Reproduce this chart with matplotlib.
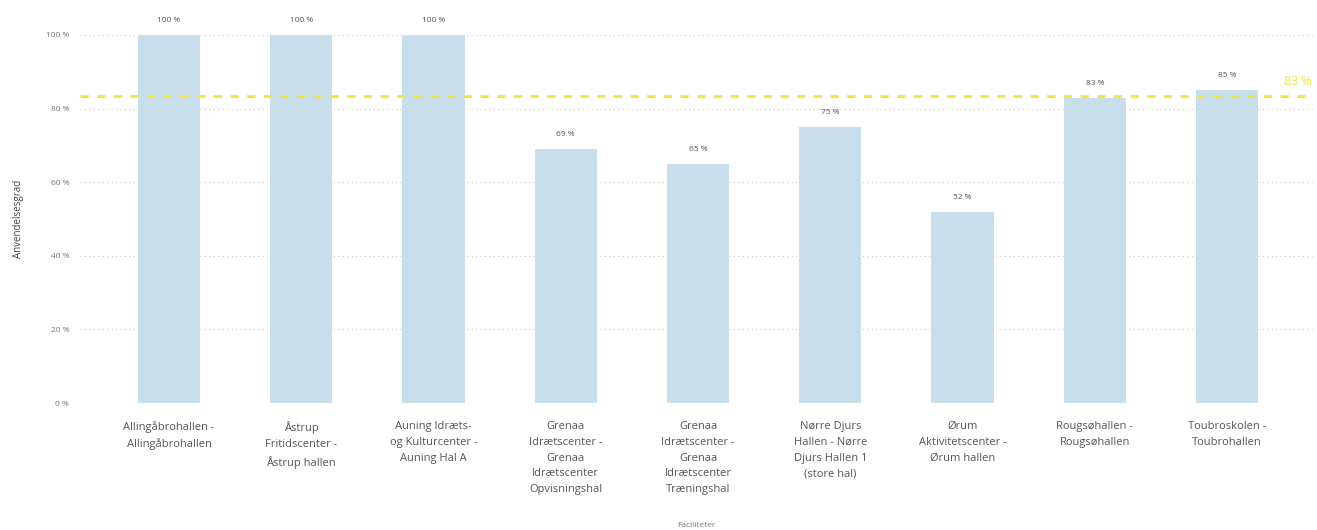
import matplotlib
matplotlib.use("Agg")
import matplotlib.pyplot as plt

categories = [
    "Allingåbrohallen -\nAllingåbrohallen",
    "Åstrup\nFritidscenter -\nÅstrup hallen",
    "Auning Idræts-\nog Kulturcenter -\nAuning Hal A",
    "Grenaa\nIdrætscenter -\nGrenaa\nIdrætscenter\nOpvisningshal",
    "Grenaa\nIdrætscenter -\nGrenaa\nIdrætscenter\nTræningshal",
    "Nørre Djurs\nHallen - Nørre\nDjurs Hallen 1\n(store hal)",
    "Ørum\nAktivitetscenter -\nØrum hallen",
    "Rougsøhallen -\nRougsøhallen",
    "Toubroskolen -\nToubrohallen",
]
values = [100, 100, 100, 69, 65, 75, 52, 83, 85]
average = 83.4
yticks = [0, 20, 40, 60, 80, 100]

plt.rcParams['font.family'] = ['Open Sans', 'DejaVu Sans']

fig = plt.figure(figsize=(13.17, 5.30), dpi=100)
ax = fig.add_axes([0.061, 0.2396, 0.937, 0.6944])

x = list(range(len(categories)))
ax.bar(x, values, width=0.47, color="#C8DEEA", zorder=2)
for xi, v in zip(x, values):
    ax.text(xi, v + 3, f"{v} %", ha="center", va="bottom", fontsize=6, color="#555555")

ax.axhline(average, color="#F3E43C", linestyle=(0, (3, 3)), linewidth=2, zorder=3)
ax.text(8.64, average + 2.3, f"{round(average)} %", ha="right", va="bottom",
        fontsize=9, color="#F3E43C")

ax.set_xlim(-0.67, 8.66)
ax.set_ylim(0, 100)
ax.set_yticks(yticks)
ax.set_yticklabels([f"{t} %" for t in yticks], fontsize=6, color="#777777")
ax.yaxis.grid(True, linestyle=(0, (1, 3)), color="#C8C8C8", linewidth=0.8, zorder=0)
ax.set_axisbelow(True)

ax.set_xticks(x)
ax.set_xticklabels(categories, fontsize=8, color="#555555", linespacing=1.6, va="top")
ax.tick_params(axis="both", length=0)
ax.tick_params(axis="x", pad=13)
ax.tick_params(axis="y", pad=8)

for s in ax.spines.values():
    s.set_visible(False)

ax.set_ylabel("Anvendelsesgrad", fontsize=7, color="#444444", labelpad=16)
fig.text(0.529, 0.002, "Faciliteter", ha="center", va="bottom", fontsize=6, color="#777777")

fig.savefig("out.png", dpi=100)
